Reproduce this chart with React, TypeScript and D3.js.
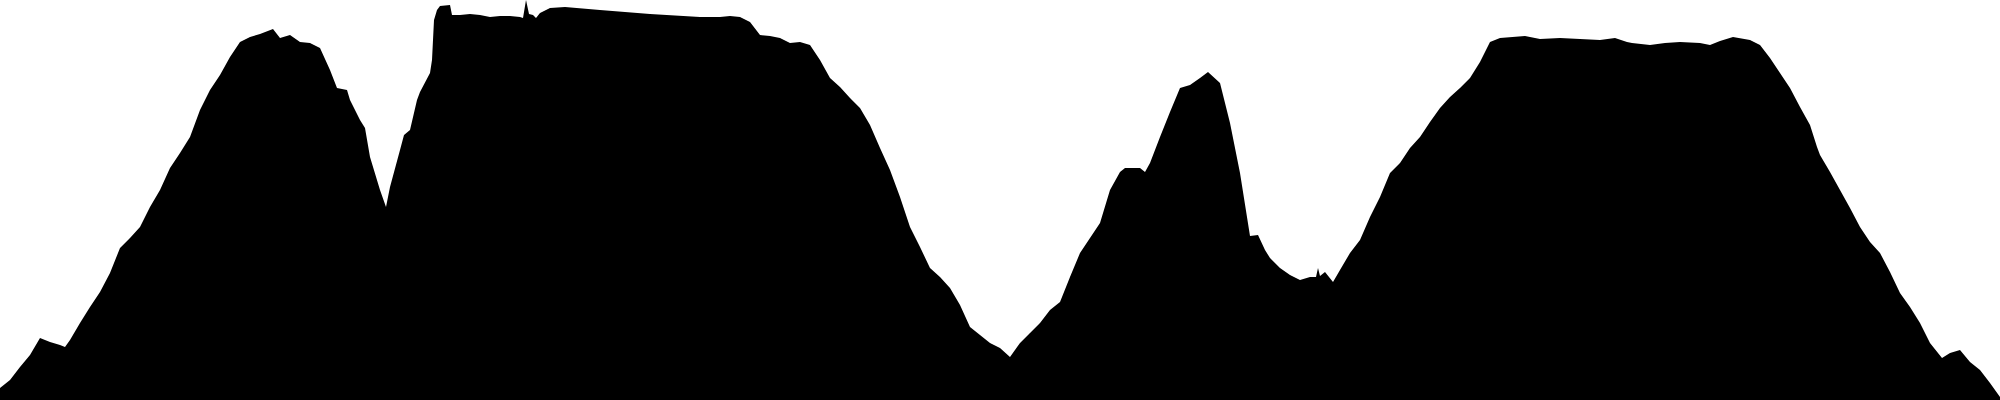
import * as d3 from 'd3'
import * as React from 'react'

//------------------------------data------------------------------
const WIDTH = 2000
const HEIGHT = 400

// distance along the route
const distance = [
  0, 10, 20, 30, 40, 50, 60, 65, 70, 80, 90, 100, 110, 120, 130, 140, 150, 160,
  170, 180, 190, 200, 210, 220, 230, 240, 250, 260, 273, 280, 290, 300, 310,
  320, 330, 337, 347, 350, 360, 365, 370, 380, 386, 390, 400, 404, 410, 417,
  420, 430, 432, 434, 437, 440, 450, 452, 460, 470, 480, 490, 500, 510, 520,
  523, 526, 529, 533, 536, 540, 550, 565, 600, 650, 700, 720, 730, 740, 750,
  760, 770, 780, 790, 800, 810, 820, 830, 840, 850, 860, 870, 880, 890, 900,
  910, 920, 930, 940, 950, 960, 970, 980, 990, 1000, 1010, 1020, 1030, 1040,
  1050, 1060, 1070, 1080, 1090, 1100, 1110, 1120, 1125, 1140, 1145, 1150, 1160,
  1170, 1180, 1190, 1200, 1208, 1220, 1230, 1240, 1250, 1258, 1265, 1270, 1280,
  1290, 1300, 1310, 1316, 1318, 1320, 1325, 1333, 1340, 1350, 1360, 1370, 1380,
  1390, 1400, 1410, 1420, 1430, 1440, 1450, 1460, 1470, 1480, 1490, 1500, 1525,
  1540, 1560, 1580, 1600, 1615, 1627, 1632, 1650, 1665, 1680, 1700, 1710, 1720,
  1733, 1750, 1760, 1770, 1780, 1790, 1800, 1810, 1817, 1820, 1830, 1840, 1850,
  1860, 1870, 1880, 1890, 1900, 1910, 1920, 1930, 1942, 1950, 1960, 1970, 1980,
  1990, 2000
]

// elevation at each distance
const elevation = [
  12, 20, 33, 45, 62, 58, 55, 53, 60, 77, 93, 108, 127, 152, 162, 173, 193, 210,
  232, 247, 263, 290, 310, 325, 343, 358, 363, 366, 371, 362, 365, 358, 357,
  352, 330, 312, 310, 300, 280, 272, 243, 210, 193, 213, 250, 265, 270, 300,
  308, 327, 340, 380, 390, 394, 395, 385, 385, 386, 385, 383, 384, 384, 383,
  382, 400, 386, 385, 382, 387, 392, 393, 390, 386, 383, 383, 384, 383, 378,
  365, 364, 362, 357, 358, 355, 340, 322, 313, 302, 292, 275, 252, 230, 203,
  173, 153, 132, 123, 112, 95, 73, 65, 57, 52, 43, 57, 67, 77,
  90, 98, 123, 147, 162, 177, 210, 228, 232, 232, 228, 237, 263,
  288, 312, 315, 322, 328, 317, 277, 227, 164, 165, 150, 142, 132,
  125, 120, 123, 123, 132, 124, 128, 118, 130, 147, 160, 183, 203,
  227, 237, 252, 263, 278, 292, 303, 312, 322, 338, 358, 362, 364,
  361, 362, 361, 360, 362, 358, 357, 355, 357, 358, 357, 355, 359,
  363, 360, 355, 342, 327, 312, 293, 275, 253, 245, 228, 210, 192,
  173, 158, 147, 128, 107, 93, 77, 57, 42, 47, 50, 38, 30,
  17, 3
]

//------------------------------Component------------------------------
const App: React.FunctionComponent = () => {
  const points = distance.map((d, i) => ({ d, e: elevation[i] }))

  const x = d3.scaleLinear().domain([0, 2000]).range([0, WIDTH])
  const y = d3.scaleLinear().domain([0, 400]).range([HEIGHT, 0])

  const area = d3
    .area<{ d: number; e: number }>()
    .x(p => x(p.d))
    .y0(y(0))
    .y1(p => y(p.e))
    .curve(d3.curveLinear)

  return (
    <svg
      width={WIDTH}
      height={HEIGHT}
      style={{ position: 'absolute', left: 0, top: 0, background: '#fff' }}
    >
      <path d={area(points) || ''} fill="#000" />
    </svg>
  )
}

export default App
